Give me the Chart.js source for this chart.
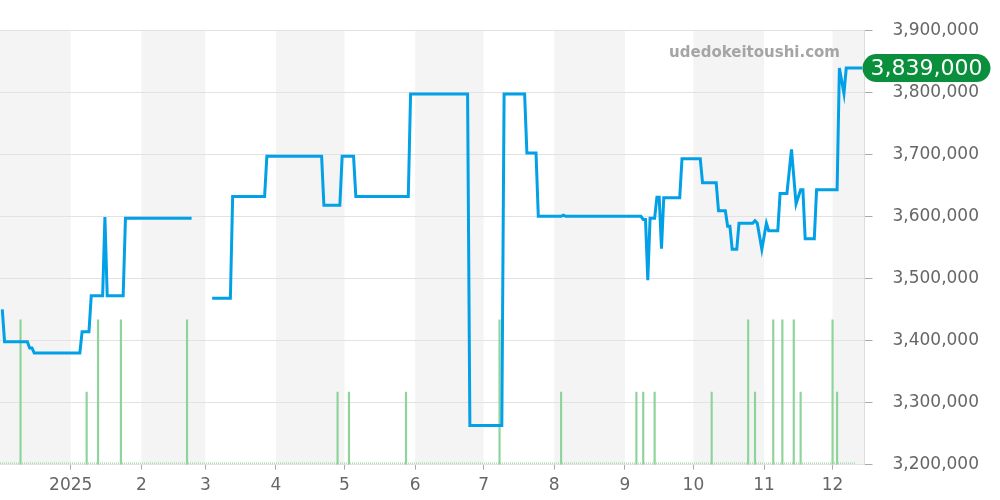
<!DOCTYPE html>
<html>
<head>
<meta charset="utf-8">
<script src="https://cdn.jsdelivr.net/npm/chart.js@4"></script>
<style>
  html, body { margin: 0; padding: 0; background: #fff; }
  #wrap { width: 1000px; height: 500px; }
</style>
</head>
<body>
<div id="wrap"><canvas id="myChart"></canvas></div>
<script>
// price history (null = no data)
const priceDates = [
  '2024-12-02', '2024-12-03', '2024-12-13', '2024-12-14', '2024-12-15', '2024-12-16',
  '2025-01-05', '2025-01-06', '2025-01-09', '2025-01-10', '2025-01-15', '2025-01-16', '2025-01-17',
  '2025-01-24', '2025-01-25', '2025-02-23', '2025-02-27',
  '2025-03-04', '2025-03-12', '2025-03-13', '2025-03-27', '2025-03-28',
  '2025-04-21', '2025-04-22', '2025-04-29', '2025-04-30', '2025-05-05', '2025-05-06',
  '2025-05-29', '2025-05-30', '2025-06-24', '2025-06-25', '2025-07-09', '2025-07-10',
  '2025-07-19', '2025-07-20', '2025-07-24', '2025-07-25', '2025-08-04', '2025-08-05', '2025-08-06',
  '2025-09-08', '2025-09-09', '2025-09-10', '2025-09-11', '2025-09-12', '2025-09-14', '2025-09-15',
  '2025-09-16', '2025-09-17', '2025-09-18', '2025-09-25', '2025-09-26',
  '2025-10-04', '2025-10-05', '2025-10-11', '2025-10-12', '2025-10-15', '2025-10-16', '2025-10-17',
  '2025-10-18', '2025-10-20', '2025-10-21', '2025-10-27', '2025-10-28', '2025-10-29', '2025-10-31',
  '2025-11-02', '2025-11-03', '2025-11-07', '2025-11-08', '2025-11-11', '2025-11-13', '2025-11-15',
  '2025-11-17', '2025-11-18', '2025-11-19', '2025-11-23', '2025-11-24',
  '2025-12-03', '2025-12-04', '2025-12-06', '2025-12-07', '2025-12-14'
];
const priceValues = [
  3450000, 3398000, 3398000, 3388000, 3388000, 3380000,
  3380000, 3414000, 3414000, 3472000, 3472000, 3599000, 3472000,
  3472000, 3597000, 3597000, null,
  3468000, 3468000, 3632000, 3632000, 3697000,
  3697000, 3618000, 3618000, 3697000, 3697000, 3632000,
  3632000, 3797000, 3797000, 3263000, 3263000, 3797000,
  3797000, 3702000, 3702000, 3600000, 3600000, 3602000, 3600000,
  3600000, 3595000, 3595000, 3497000, 3597000, 3597000, 3631000,
  3631000, 3548000, 3630000, 3630000, 3693000,
  3693000, 3654000, 3654000, 3609000, 3609000, 3584000, 3584000,
  3547000, 3547000, 3589000, 3589000, 3593000, 3589000, 3547000,
  3589000, 3577000, 3577000, 3637000, 3637000, 3708000, 3620000,
  3643000, 3643000, 3564000, 3564000, 3643000,
  3643000, 3839000, 3798000, 3839000, 3839000
];

// trade counts (green bars)
const volumeDates = [
  '2024-12-10', '2025-01-08', '2025-01-13', '2025-01-23', '2025-02-21',
  '2025-04-28', '2025-05-03', '2025-05-28', '2025-07-08', '2025-08-04',
  '2025-09-06', '2025-09-09', '2025-09-14', '2025-10-09', '2025-10-25',
  '2025-10-28', '2025-11-05', '2025-11-09', '2025-11-14', '2025-11-17',
  '2025-12-01', '2025-12-03'
];
const volumeValues = [2, 1, 2, 2, 2, 1, 1, 1, 2, 1, 1, 1, 1, 1, 2, 1, 2, 2, 2, 1, 2, 1];

const tickDates = ['2025-01-01', '2025-02-01', '2025-03-01', '2025-04-01', '2025-05-01', '2025-06-01',
  '2025-07-01', '2025-08-01', '2025-09-01', '2025-10-01', '2025-11-01', '2025-12-01'];
const tickLabels = ['2025', '2', '3', '4', '5', '6', '7', '8', '9', '10', '11', '12'];

const rangeStart = '2024-12-01';
const rangeEnd = '2025-12-15';

const DAY0 = Date.parse(rangeStart);
const day = (s) => (Date.parse(s) - DAY0) / 864e5;

Chart.defaults.font.family = "'DejaVu Sans', sans-serif";

// alternating month shading
const monthBands = {
  id: 'monthBands',
  beforeDraw(chart) {
    const { ctx, chartArea, scales } = chart;
    const x = scales.x;
    ctx.save();
    ctx.fillStyle = '#f4f4f4';
    let d = new Date(DAY0);
    let i = 0;
    while (d.getTime() < Date.parse(rangeEnd)) {
      const next = new Date(Date.UTC(d.getUTCFullYear(), d.getUTCMonth() + 1, 1));
      if (i % 2 === 0) {
        const x1 = Math.max(chartArea.left, x.getPixelForValue((d - DAY0) / 864e5));
        const x2 = Math.min(chartArea.right, x.getPixelForValue((next - DAY0) / 864e5));
        ctx.fillRect(x1, chartArea.top, x2 - x1, chartArea.bottom - chartArea.top);
      }
      d = next;
      i++;
    }
    ctx.restore();
  }
};

// watermark + last price badge
const overlay = {
  id: 'overlay',
  afterDraw(chart) {
    const { ctx, chartArea, scales } = chart;
    ctx.save();
    ctx.font = "bold 15px 'DejaVu Sans'";
    ctx.fillStyle = '#a5a5a5';
    ctx.textAlign = 'right';
    ctx.textBaseline = 'middle';
    ctx.fillText('udedokeitoushi.com', 840, 53);

    const last = priceValues[priceValues.length - 1];
    const y = scales.y.getPixelForValue(last);
    const left = chartArea.right - 2, w = 128, h = 28, r = 14;
    ctx.fillStyle = '#0a8f3c';
    ctx.beginPath();
    ctx.roundRect(left, y - h / 2, w, h, r);
    ctx.fill();
    ctx.fillStyle = '#fff';
    ctx.font = "22px 'DejaVu Sans'";
    ctx.textAlign = 'center';
    ctx.fillText(last.toLocaleString('en-US'), left + w / 2, y + 1);
    ctx.restore();
  }
};

const ctx = document.getElementById('myChart').getContext('2d');
const myChart = new Chart(ctx, {
  type: 'line',
  data: {
    datasets: [
      {
        type: 'line',
        data: priceDates.map((d, i) => ({ x: day(d), y: priceValues[i] })),
        borderColor: '#02a0e6',
        borderWidth: 3,
        pointRadius: 0,
        tension: 0,
        spanGaps: false,
        yAxisID: 'y',
        order: 0
      },
      {
        type: 'bar',
        data: volumeDates.map((d, i) => ({ x: day(d), y: volumeValues[i] })),
        backgroundColor: '#8ed49a',
        barThickness: 1.5,
        yAxisID: 'y2',
        order: 1
      },
      {
        type: 'line',
        data: [{ x: day(rangeStart), y: 0.02 }, { x: day('2025-12-11'), y: 0.02 }],
        borderColor: '#a8dcb1',
        borderWidth: 1.5,
        borderDash: [1, 1],
        pointRadius: 0,
        yAxisID: 'y2',
        order: 2
      }
    ]
  },
  options: {
    responsive: true,
    maintainAspectRatio: false,
    animation: false,
    layout: { padding: { top: 30, right: 1, bottom: -2, left: 0 } },
    plugins: {
      legend: { display: false },
      tooltip: { enabled: false }
    },
    scales: {
      x: {
        type: 'linear',
        offset: false,
        min: day(rangeStart),
        max: day(rangeEnd),
        afterBuildTicks: (scale) => {
          scale.ticks = tickDates.map(d => ({ value: day(d) }));
        },
        ticks: {
          autoSkip: false,
          maxRotation: 0,
          color: '#666',
          font: { size: 17 },
          padding: 6,
          callback: (v) => {
            const i = tickDates.findIndex(d => day(d) === v);
            return i >= 0 ? tickLabels[i] : '';
          }
        },
        grid: { offset: false, drawOnChartArea: false, tickLength: 5, tickColor: '#aaa' },
        border: { display: false }
      },
      y: {
        position: 'right',
        min: 3200000,
        max: 3900000,
        ticks: {
          stepSize: 100000,
          color: '#666',
          font: { size: 17 },
          padding: 20,
          callback: (v) => v.toLocaleString('en-US')
        },
        grid: { color: '#e2e2e2', tickLength: 8, tickColor: '#aaa' },
        border: { display: true, color: '#ddd' }
      },
      y2: {
        display: false,
        min: 0,
        max: 6
      }
    }
  },
  plugins: [monthBands, overlay]
});
</script>
</body>
</html>
